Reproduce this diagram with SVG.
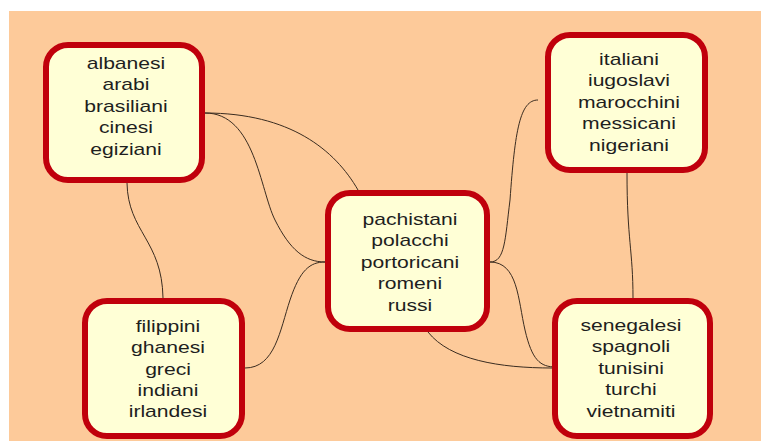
<svg xmlns="http://www.w3.org/2000/svg" width="761" height="441" viewBox="0 0 761 441">
<style>
.box{fill:#FFFFD6;stroke:#C0000C;stroke-width:6}
.t{font-family:"Liberation Sans",Arial,sans-serif;font-size:16px;fill:#1e1e1e;text-anchor:middle}
.c{fill:none;stroke:#3a2c20;stroke-width:1}
</style>
<rect x="0" y="0" width="761" height="441" fill="#ffffff"/>
<rect x="9" y="11" width="752" height="430" fill="#FDCA9A"/>
<g id="connectors">
<path class="c" d="M205,113 C290,113 335,150 358,190"/>
<path class="c" d="M205,113 C255,113 260,190 275,220 C290,250 305,262 325,262"/>
<path class="c" d="M245,368 C275,368 280,330 290,300 C300,270 310,262 325,262"/>
<path class="c" d="M127,183 C128,232 162,240 163,298"/>
<path class="c" d="M490,262 C505,262 505,240 510,200 C515,130 520,100 538,100"/>
<path class="c" d="M490,262 C518,262 518,300 525,330 C532,360 540,367 556,367"/>
<path class="c" d="M428,332 C450,360 500,368 552,368"/>
<path class="c" d="M627,173 C627,240 633,250 633,298"/>
</g>
<g id="n1">
<rect class="box" x="46" y="45" width="156" height="135" rx="22" ry="22"/>
<text class="t" transform="translate(126,0) scale(1.32,1)"><tspan x="0" y="69">albanesi</tspan><tspan x="0" y="90.5">arabi</tspan><tspan x="0" y="112">brasiliani</tspan><tspan x="0" y="133.5">cinesi</tspan><tspan x="0" y="155">egiziani</tspan></text>
</g>
<g id="n2">
<rect class="box" x="548" y="35" width="157" height="135" rx="22" ry="22"/>
<text class="t" transform="translate(629,0) scale(1.32,1)"><tspan x="0" y="65">italiani</tspan><tspan x="0" y="86.5">iugoslavi</tspan><tspan x="0" y="108">marocchini</tspan><tspan x="0" y="129.5">messicani</tspan><tspan x="0" y="151">nigeriani</tspan></text>
</g>
<g id="n3">
<rect class="box" x="328" y="193" width="159" height="136" rx="22" ry="22"/>
<text class="t" transform="translate(410,0) scale(1.32,1)"><tspan x="0" y="225">pachistani</tspan><tspan x="0" y="246.5">polacchi</tspan><tspan x="0" y="268">portoricani</tspan><tspan x="0" y="289.5">romeni</tspan><tspan x="0" y="311">russi</tspan></text>
</g>
<g id="n4">
<rect class="box" x="85" y="301" width="157" height="135" rx="22" ry="22"/>
<text class="t" transform="translate(168,0) scale(1.32,1)"><tspan x="0" y="332">filippini</tspan><tspan x="0" y="353.5">ghanesi</tspan><tspan x="0" y="375">greci</tspan><tspan x="0" y="396">indiani</tspan><tspan x="0" y="417">irlandesi</tspan></text>
</g>
<g id="n5">
<rect class="box" x="555" y="301" width="155" height="135" rx="22" ry="22"/>
<text class="t" transform="translate(631,0) scale(1.32,1)"><tspan x="0" y="331">senegalesi</tspan><tspan x="0" y="352.5">spagnoli</tspan><tspan x="0" y="374">tunisini</tspan><tspan x="0" y="395.5">turchi</tspan><tspan x="0" y="417">vietnamiti</tspan></text>
</g>
</svg>
